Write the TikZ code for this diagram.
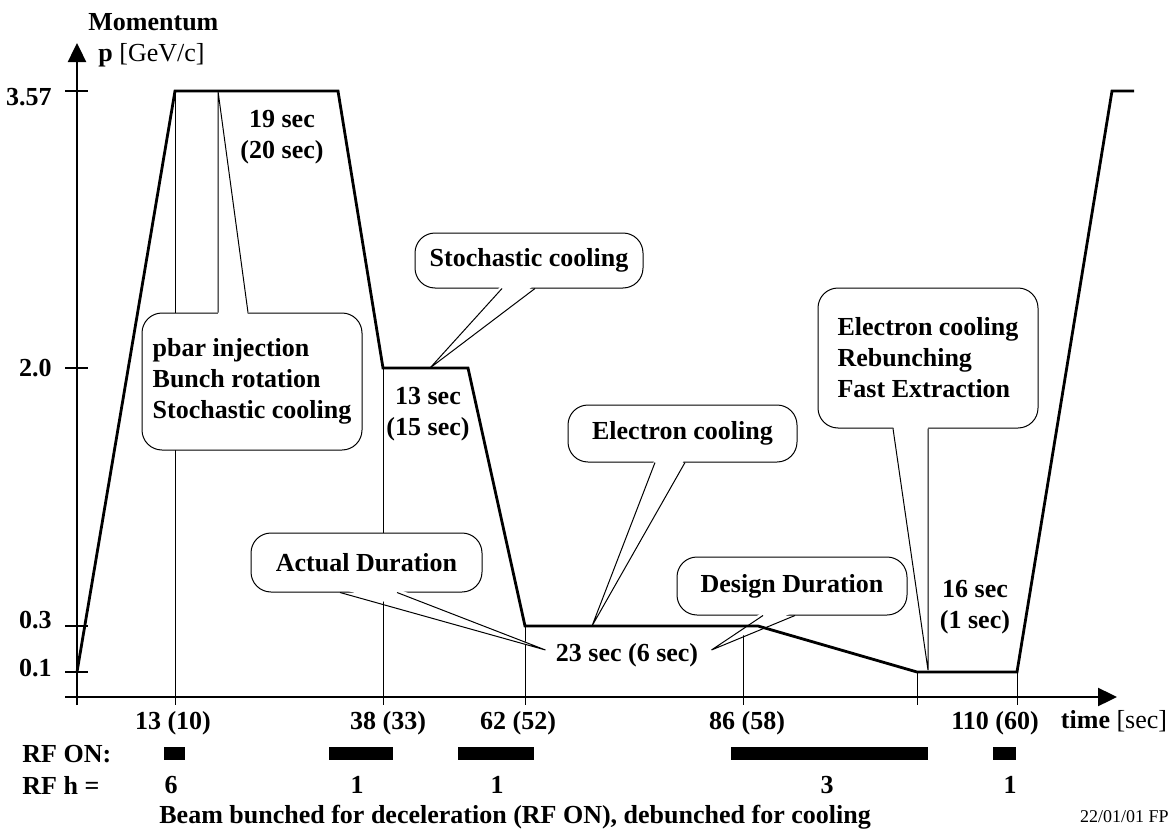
\documentclass[tikz,border=0pt]{standalone}
\usepackage{fontspec}
\setmainfont{Liberation Serif}
\usetikzlibrary{arrows.meta,calc,positioning}

\begin{document}
\begin{tikzpicture}[x=0.5pt,y=-0.5pt,inner sep=0pt,
    font=\fontsize{13}{15.5}\selectfont\bfseries,
    bubble/.style={draw,fill=white,rounded corners=10pt,align=left,line width=0.5pt},
    thinline/.style={line width=0.5pt},
    axis/.style={line width=1.2pt,-{Triangle[length=9.5pt,width=9pt]}}]
\useasboundingbox (0,0) rectangle (1169,830);

% corners of the cycle
\foreach \x/\y [count=\n] in {77/672,175/91,338/91,383/368,468/368,525/626,758/626,917/672,1017/672,1112/91,1134/91}
    \coordinate (P\n) at (\x,\y);
\coordinate (Q) at (743,626);

% axes
\draw[axis] (77,705) -- (77,43);
\draw[axis] (65,697) -- (1117,697);
\foreach \y/\ly/\v [count=\n] in {91/97/3.57,368/368/2.0,626/620/0.3,672/668/0.1}{
    \draw[line width=1pt] (65,\y) -- (88,\y);
    \node[anchor=east] (v\n) at (52,\ly) {\v};
}
\node[anchor=west] (mom) at (88,22) {Momentum};
\node[anchor=west] (unit) at (98,55) {p {\mdseries [GeV/c]}};

% thin lines down to the time axis
\foreach \p in {P2,P4,P6,Q,P8,P9}
    \draw[thinline] (\p) -- (\p |- 0,705);

% time labels
\foreach \x/\lab [count=\n] in {173/{13 (10)},388/{38 (33)},518/{62 (52)},747/{86 (58)},995/{110 (60)}}
    \node (t\n) at (\x,723) {\lab};
\node (tunit) at (1114,721) {time {\mdseries [sec]}};

% RF rows
\node[anchor=west] (rfon) at (22,754) {RF ON:};
\node[anchor=west] (rfh) at (22,785) {RF h =};
\foreach \a/\b in {164/185,329/393,458/534,731/928,993/1016}
    \fill (\a,747) rectangle (\b,760);
\foreach \x/\hv [count=\n] in {171/6,357/1,497/1,827/3,1010/1}
    \node (h\n) at (\x,785) {\hv};
\node[anchor=west] (note) at (159,817) {Beam bunched for deceleration (RF ON), debunched for cooling};
\node[anchor=east,font=\fontsize{9}{11}\selectfont] (date) at (1169,817) {22/01/01 FP};

% durations
\node[align=center] (d1) at (282,137) {19 sec\\(20 sec)};
\node[align=center] (d2) at (428,414) {13 sec\\(15 sec)};
\node (d3) at (627,655) {23 sec (6 sec)};
\node[align=center] (d4) at (975,607) {16 sec\\(1 sec)};

% callouts
\node[bubble,minimum width=110pt,minimum height=68.5pt] (inj) at (252,381.5) {pbar injection\\Bunch rotation\\Stochastic cooling};
\node[bubble,minimum width=114pt,minimum height=27.5pt] (stoch) at (529,260.5) {Stochastic cooling};
\node[bubble,minimum width=114.5pt,minimum height=28.5pt] (ecool) at (682.5,433.5) {Electron cooling};
\node[bubble,minimum width=115.5pt,minimum height=29.5pt] (actual) at (366.5,562.5) {Actual Duration};
\node[bubble,minimum width=115pt,minimum height=29pt] (design) at (792,586) {Design Duration};
\node[bubble,minimum width=110pt,minimum height=70pt] (extr) at (928,358) {Electron cooling\\Rebunching\\Fast Extraction};

\coordinate (k1) at (218,91);
\coordinate (k2) at (430,368);
\coordinate (k3) at (592,626);
\coordinate (k4) at ([xshift=-5pt,yshift=2.5pt]d3.west);
\coordinate (k5) at ([xshift=6.5pt,yshift=2.5pt]d3.east);
\coordinate (k6) at (928,670);

\foreach \bx/\side/\dy/\lx/\rx/\tp in {inj/north/4/218/248/k1,stoch/south/-4/502/535/k2,ecool/south/-4/655/685/k3,actual/south/-4/340/397/k4,design/south/-4/763/795/k5,extr/south/-4/893/928/k6}{
    \fill[white] ($(\lx,0 |- \bx.\side)+(0,\dy)$) -- (\tp) -- ($(\rx,0 |- \bx.\side)+(0,\dy)$) -- cycle;
    \draw[thinline] (\lx,0 |- \bx.\side) -- (\tp) -- (\rx,0 |- \bx.\side);
}

% the cycle
\draw[line width=1.4pt] (P1) \foreach \n in {2,...,11}{ -- (P\n)};
\end{tikzpicture}
\end{document}
